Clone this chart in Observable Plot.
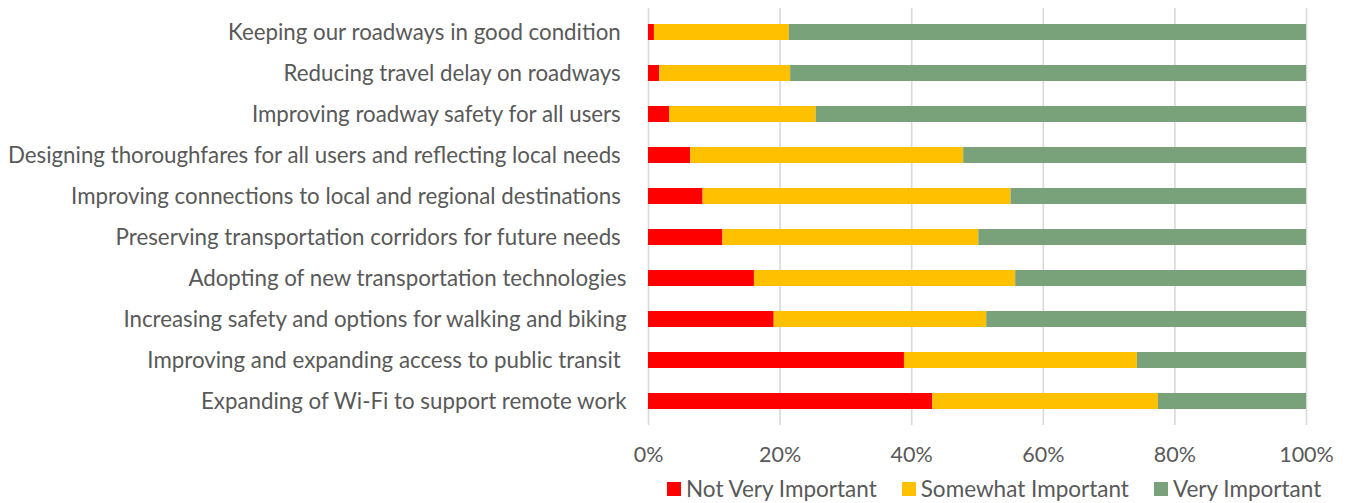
<!DOCTYPE html>
<html>
<head>
<meta charset="utf-8">
<script src="https://cdn.jsdelivr.net/npm/d3@7"></script>
<script src="https://cdn.jsdelivr.net/npm/@observablehq/plot@0.6"></script>
<style>
  html, body { margin: 0; padding: 0; background: #fff; }
  #chart { position: relative; width: 1349px; height: 503px; font-family: Lato, "Open Sans", sans-serif; overflow: hidden; }
  #legend { position: absolute; top: 477px; left: 667px; display: flex; align-items: center; font-size: 22.5px; line-height: 24px; color: #595959; white-space: nowrap; }
  .item { display: flex; align-items: center; margin-right: 25px; }
  .sw { width: 14px; height: 14px; margin-right: 5px; }
</style>
</head>
<body>
<div id="chart"></div>
<script>
const categories = [
  "Keeping our roadways in good condition\u00a0",
  "Reducing travel delay on roadways\u00a0",
  "Improving roadway safety for all users\u00a0",
  "Designing thoroughfares for all users and reflecting local needs\u00a0",
  "Improving connections to local and regional destinations\u00a0",
  "Preserving transportation corridors for future needs\u00a0",
  "Adopting of new transportation technologies",
  "Increasing safety and options for walking and biking",
  "Improving and expanding access to public transit\u00a0",
  "Expanding of Wi-Fi to support remote work"
];
const notVery  = [0.9, 1.7, 3.2, 6.4, 8.3, 11.3, 16.1, 19.1, 38.9, 43.2];
const somewhat = [20.5, 19.9, 22.3, 41.5, 46.8, 38.9, 39.7, 32.3, 35.4, 34.3];
const very     = [78.6, 78.4, 74.5, 52.1, 44.9, 49.8, 44.2, 48.6, 25.7, 22.5];
const series = ["Not Very Important", "Somewhat Important", "Very Important"];
const colors = ["#FF0000", "#FFC000", "#7AA27A"];
const xTicks = [0, 20, 40, 60, 80, 100];

const values = [notVery, somewhat, very];
const data = categories.flatMap((c, i) => series.map((s, j) => ({cat: c, s, v: values[j][i]})));

const chart = Plot.plot({
  width: 1349,
  height: 476,
  marginLeft: 648,
  marginRight: 43,
  marginTop: 8,
  marginBottom: 51,
  style: {fontFamily: "Lato, 'Open Sans', sans-serif", fontSize: "21px", color: "#595959", background: "#fff"},
  x: {domain: [0, 100], label: null},
  y: {domain: categories, paddingInner: 0.6, paddingOuter: 0.3, label: null},
  color: {domain: series, range: colors},
  marks: [
    Plot.gridX(xTicks, {stroke: "#d9d9d9", strokeOpacity: 1, strokeWidth: 1.6}),
    Plot.barX(data, Plot.stackX({y: "cat", x: "v", fill: "s", order: series})),
    Plot.axisX(xTicks, {tickFormat: d => d + "%", tickSize: 0, tickPadding: 21, label: null, fontSize: 21.5, fill: "#595959"}),
    Plot.axisY({tickSize: 0, tickPadding: 22, label: null, fontSize: 22.3, fill: "#595959"})
  ]
});
document.getElementById("chart").appendChild(chart);

const legend = document.createElement("div");
legend.id = "legend";
series.forEach((s, i) => {
  const item = document.createElement("div");
  item.className = "item";
  const sw = document.createElement("div");
  sw.className = "sw";
  sw.style.background = colors[i];
  const t = document.createElement("span");
  t.textContent = s;
  item.appendChild(sw);
  item.appendChild(t);
  legend.appendChild(item);
});
document.getElementById("chart").appendChild(legend);
</script>
</body>
</html>
